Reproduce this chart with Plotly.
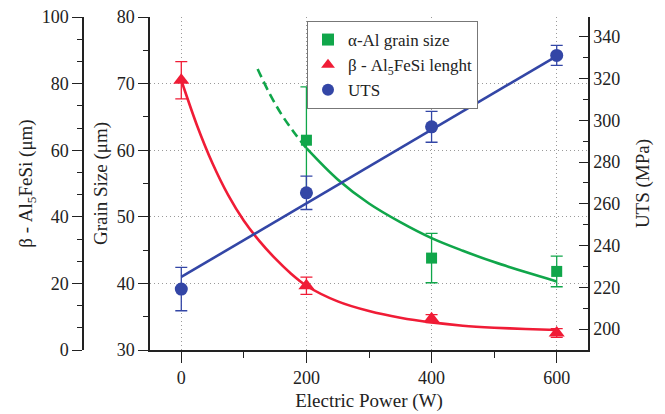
import plotly.graph_objects as go

# ---------------- data ----------------
power = [0, 200, 400, 600]

grain_power = [200, 400, 600]
grain_size = [61.5, 43.8, 41.8]
grain_err = [8.0, 3.7, 2.3]

beta_len = [81.0, 19.3, 9.4, 5.1]
beta_err = [5.6, 2.6, 1.2, 1.3]

uts = [219.2, 265.3, 296.9, 331.1]
uts_err = [10.4, 8.0, 7.4, 4.8]

# fitted curves
grain_fit_dash_x = [122, 140, 160, 180, 200]
grain_fit_dash_y = [72.2, 68.7, 65.4, 62.7, 60.3]
grain_fit_x = [200, 250, 300, 350, 400, 450, 500, 550, 600]
grain_fit_y = [60.3, 55.6, 52.0, 49.2, 46.8, 44.9, 43.2, 41.7, 40.3]

beta_fit_x = [0, 25, 50, 75, 100, 125, 150, 175, 200, 250, 300, 350, 400, 450, 500, 550, 600]
beta_fit_y = [81.0, 67.5, 56.0, 46.5, 38.8, 32.7, 27.5, 23.0, 19.3, 14.6, 11.7, 9.7, 8.3, 7.3, 6.7, 6.3, 6.0]

uts_fit_x = [0, 600]
uts_fit_y = [225.0, 330.8]

x_ticks = [0, 200, 400, 600]

# ---------------- styling ----------------
GREEN = "#10a64a"
RED = "#f01c36"
BLUE = "#3346a6"
FONT = "Liberation Serif, Times New Roman, Times, serif"
TICKF = dict(family=FONT, size=18, color="#222")
TITLEF = dict(family=FONT, size=19, color="#222")
GRID = dict(showgrid=True, gridcolor="#9a9a9a", griddash="1px,3px", gridwidth=1)

fig = go.Figure()

# green fits
fig.add_trace(go.Scatter(x=grain_fit_dash_x, y=grain_fit_dash_y, mode="lines",
                         line=dict(color=GREEN, width=2.6, dash="9px,5px", shape="spline"),
                         showlegend=False, hoverinfo="skip", yaxis="y"))
fig.add_trace(go.Scatter(x=grain_fit_x, y=grain_fit_y, mode="lines",
                         line=dict(color=GREEN, width=2.6, shape="spline"),
                         showlegend=False, hoverinfo="skip", yaxis="y"))
fig.add_trace(go.Scatter(x=grain_power, y=grain_size, mode="markers", name="α-Al grain size",
                         marker=dict(symbol="square", size=11, color=GREEN),
                         error_y=dict(type="data", array=grain_err, color=GREEN, thickness=1.3, width=6),
                         yaxis="y"))

# red fits
fig.add_trace(go.Scatter(x=beta_fit_x, y=beta_fit_y, mode="lines",
                         line=dict(color=RED, width=2.6, shape="spline", smoothing=0.8),
                         showlegend=False, hoverinfo="skip", yaxis="y2"))
fig.add_trace(go.Scatter(x=power, y=beta_len, mode="markers", name="β - Al<sub>5</sub>FeSi lenght",
                         marker=dict(symbol="triangle-up", size=14, color=RED),
                         error_y=dict(type="data", array=beta_err, color=RED, thickness=1.3, width=6),
                         yaxis="y2"))

# blue
fig.add_trace(go.Scatter(x=uts_fit_x, y=uts_fit_y, mode="lines",
                         line=dict(color=BLUE, width=2.6),
                         showlegend=False, hoverinfo="skip", yaxis="y3"))
fig.add_trace(go.Scatter(x=power, y=uts, mode="markers", name="UTS",
                         marker=dict(symbol="circle", size=13, color=BLUE),
                         error_y=dict(type="data", array=uts_err, color=BLUE, thickness=1.3, width=6),
                         yaxis="y3"))

XR = [-50, 650]
fig.update_layout(
    template="none",
    width=665, height=414,
    margin=dict(l=0, r=0, t=0, b=0, pad=0, autoexpand=False),
    paper_bgcolor="white", plot_bgcolor="white",
    font=dict(family=FONT, color="#222"),
    xaxis=dict(domain=[150/665, 588/665], range=XR, tickvals=x_ticks, automargin=False,
               ticks="outside", ticklen=11, tickwidth=1.3, tickcolor="#222",
               minor=dict(dtick=100, tick0=0, ticks="outside", ticklen=6, tickwidth=1.3, tickcolor="#222"),
               showline=True, linecolor="#222", linewidth=1.5,
               zeroline=False, tickfont=TICKF, **GRID,
               title=dict(text="Electric Power (W)", font=TITLEF, standoff=6)),
    xaxis2=dict(overlaying="x", side="top", anchor="y", range=XR, tickvals=x_ticks, automargin=False,
                ticks="inside", ticklen=11, tickwidth=1.3, tickcolor="#222",
                minor=dict(dtick=100, tick0=0, ticks="inside", ticklen=7, tickwidth=1.3, tickcolor="#222"),
                showticklabels=False, showline=True, linecolor="#222", linewidth=1.5,
                showgrid=False, zeroline=False),
    yaxis=dict(domain=[64/414, 397/414], range=[30, 80], dtick=10, tick0=30, automargin=False,
               ticks="outside", ticklen=10, tickwidth=1.3, tickcolor="#222",
               minor=dict(dtick=5, tick0=30, ticks="outside", ticklen=5, tickwidth=1.3, tickcolor="#222"),
               showline=True, linecolor="#222", linewidth=1.5,
               zeroline=False, tickfont=TICKF, **GRID,
               title=dict(text="Grain Size (μm)", font=TITLEF, standoff=4)),
    yaxis2=dict(overlaying="y", anchor="free", position=83/665, side="left", automargin=False,
                range=[0, 100], dtick=20, tick0=0,
                ticks="outside", ticklen=10, tickwidth=1.3, tickcolor="#222",
                minor=dict(dtick=20/3, tick0=0, ticks="outside", ticklen=5, tickwidth=1.3, tickcolor="#222"),
                showline=True, linecolor="#222", linewidth=1.5,
                showgrid=False, zeroline=False, tickfont=TICKF,
                title=dict(text="β - Al<sub>5</sub>FeSi (μm)", font=TITLEF, standoff=3)),
    yaxis3=dict(overlaying="y", anchor="x", side="right", automargin=False,
                range=[190, 349.5], dtick=20, tick0=200,
                ticks="inside", ticklen=9, tickwidth=1.3, tickcolor="#222",
                minor=dict(dtick=10, tick0=200, ticks="inside", ticklen=5, tickwidth=1.3, tickcolor="#222"),
                showline=True, linecolor="#222", linewidth=1.5,
                showgrid=False, zeroline=False, tickfont=TICKF,
                title=dict(text="UTS (MPa)", font=TITLEF, standoff=16)),
    legend=dict(x=307/665, y=(414-21)/414, xanchor="left", yanchor="top",
                bgcolor="white", bordercolor="#777", borderwidth=1,
                font=dict(family=FONT, size=17, color="#222"),
                tracegroupgap=0, itemsizing="constant", itemwidth=30),
)

fig.write_html("out.html", config={"displayModeBar": False},
               post_script="document.body.style.margin='0';")
